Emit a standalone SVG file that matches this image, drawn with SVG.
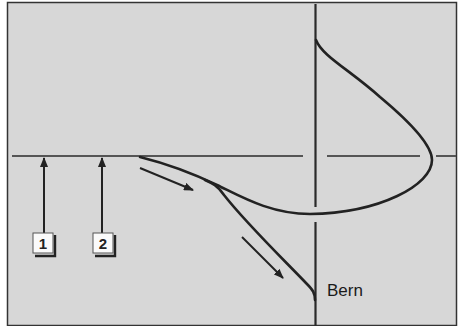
<svg xmlns="http://www.w3.org/2000/svg" width="459" height="326" viewBox="0 0 459 326">
<defs>
<style>
.axis{stroke:#555;stroke-width:2;fill:none}
.vaxis{stroke:#2a2a2a;stroke-width:2.2;fill:none}
.curve{stroke:#222;stroke-width:2.6;fill:none;stroke-linecap:round}
.arr{stroke:#222;stroke-width:2;fill:none}
.box{fill:#fafafa;stroke:#555;stroke-width:1}
.shadow{stroke:#222;stroke-width:2.4;fill:none}
.num{font-family:"Liberation Sans",Arial,sans-serif;font-weight:bold;font-size:15px;fill:#222;text-anchor:middle}
.lbl{font-family:"Liberation Sans",Arial,sans-serif;font-size:17px;fill:#1a1a1a}
</style>
<marker id="ah" markerWidth="10" markerHeight="8" refX="9" refY="4" orient="auto" markerUnits="userSpaceOnUse">
<path d="M0,0 L10,4 L0,8 Z" fill="#222"/>
</marker>
</defs>
<rect x="0" y="0" width="459" height="326" fill="#ffffff"/>
<rect x="7.5" y="2.5" width="449" height="323" fill="#d7d7d7" stroke="#333" stroke-width="1.5"/>
<g id="axes">
<line class="axis" x1="12" y1="156" x2="303" y2="156"/>
<line class="axis" x1="327" y1="156" x2="420" y2="156"/>
<line class="axis" x1="436" y1="156" x2="456" y2="156"/>
<line class="vaxis" x1="315.5" y1="4" x2="315.5" y2="207"/>
<line class="vaxis" x1="315.5" y1="222" x2="315.5" y2="326"/>
</g>
<g id="curves">
<path class="curve" d="M316,40 C322,56 350,70 380,97 C410,122 432,145 432,160 C432,185 380,213 310,214 C270,214 240,196 217,185 C190,172 160,162 140,157"/>
<path class="curve" d="M205,180 C212,183 218,186 224,195 C245,222 282,258 306,283 C313,290 315,293 315,300"/>
</g>
<g id="connectors">
<line class="arr" x1="140" y1="168" x2="193" y2="190" marker-end="url(#ah)"/>
<line class="arr" x1="242" y1="237" x2="283" y2="278" marker-end="url(#ah)"/>
<line class="arr" x1="44" y1="233" x2="44" y2="158" marker-end="url(#ah)"/>
<line class="arr" x1="102" y1="233" x2="102" y2="158" marker-end="url(#ah)"/>
</g>
<g id="node1">
<rect class="box" x="33" y="233" width="20" height="20"/>
<polyline class="shadow" points="55,235 55,256 35,256"/>
<text class="num" x="43" y="249">1</text>
</g>
<g id="node2">
<rect class="box" x="93" y="233" width="20" height="20"/>
<polyline class="shadow" points="115,235 115,256 95,256"/>
<text class="num" x="103" y="249">2</text>
</g>
<g id="bern">
<text class="lbl" x="327" y="296">Bern</text>
</g>
</svg>
